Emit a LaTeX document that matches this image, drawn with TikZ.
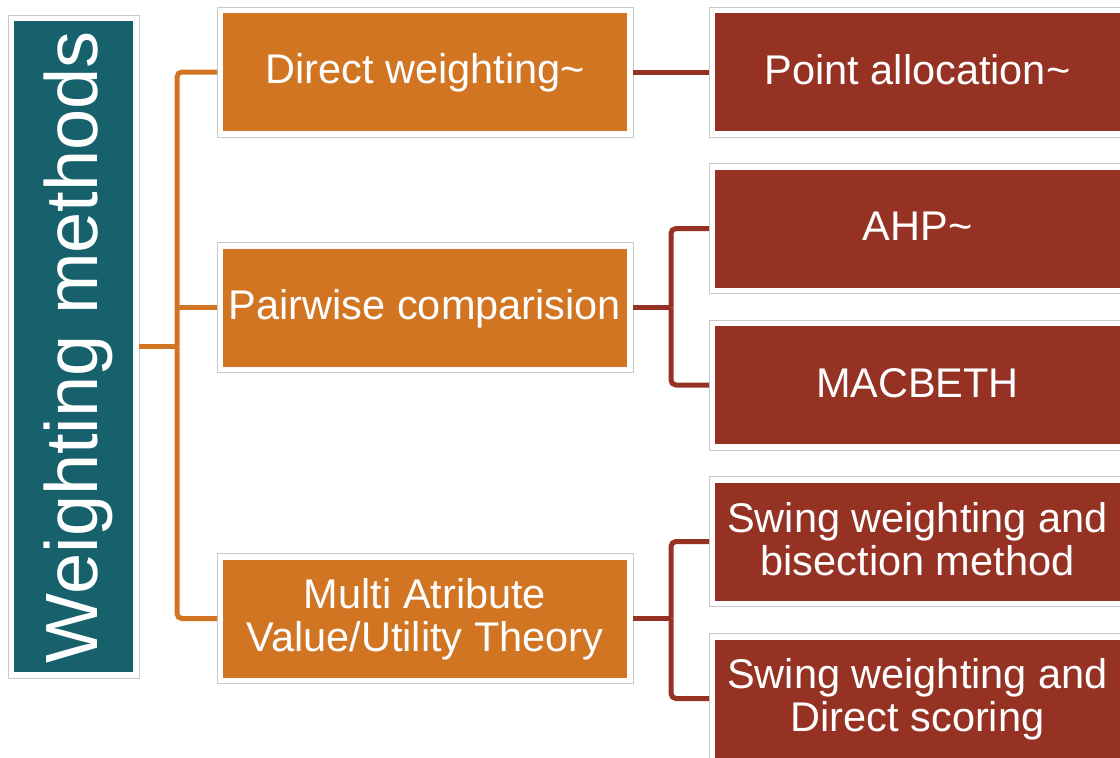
\documentclass[tikz,border=0pt]{standalone}
\usepackage{fontspec}
\setmainfont{Liberation Sans}
\definecolor{teal1}{RGB}{22,97,108}
\definecolor{orng}{RGB}{209,117,34}
\definecolor{rust}{RGB}{150,50,36}
\definecolor{frame}{RGB}{200,200,200}
% uniform line box so every label shares the same baseline offset
\newcommand\lstrut{\rule[-8pt]{0pt}{40pt}}
\begin{document}
\begin{tikzpicture}[x=1pt,y=-1pt,
  box/.style={draw=frame, line width=0.9pt, fill=white, inner sep=0pt, outer sep=0pt,
    text=white, align=center, font=\fontsize{41.5}{43}\selectfont,
    path picture={\fill[#1] ([shift={(6pt,-6pt)}]path picture bounding box.north west)
      rectangle ([shift={(-6pt,6pt)}]path picture bounding box.south east);}},
  lone/.style={box=orng, minimum width=416pt, minimum height=130pt},
  ltwo/.style={box=rust, minimum width=417pt, minimum height=130pt},
  oconn/.style={draw=orng, line width=5pt, rounded corners=5pt},
  rconn/.style={draw=rust, line width=5pt, rounded corners=5pt}]
\useasboundingbox (0,0) rectangle (1120,758);

% root
\node[box=teal1, minimum width=131pt, minimum height=663pt] (root) at (73.5,346.5) {};
\node[text=white, font=\fontsize{74}{74}\selectfont, rotate=90, anchor=base, inner sep=0pt]
  (rootlabel) at (97,347) {Weighting methods};

% first level
\node[lone] (d1) at (425,72) {\lstrut Direct weighting\textasciitilde};
\node[lone] (p1) at (425,307.5) {\lstrut Pairwise comparision};
\node[lone] (m1) at (425,618.5) {\lstrut Multi Atribute\\\lstrut Value/Utility Theory};

% second level
\node[ltwo] (pa) at (917.5,72) {\lstrut Point allocation\textasciitilde};
\node[ltwo] (ahp) at (917.5,228.5) {\lstrut AHP\textasciitilde};
\node[ltwo] (mac) at (917.5,385) {\lstrut MACBETH};
\node[ltwo] (s1) at (917.5,541.5) {\lstrut Swing weighting and\\\lstrut bisection method};
\node[ltwo] (s2) at (917.5,698.5) {\lstrut Swing weighting and\\\lstrut Direct scoring};

% junctions
\coordinate (jr) at (177,346.5);
\coordinate (jp) at (671,307.5);
\coordinate (jm) at (671,618.5);

% orange tree
\draw[oconn] (d1.west) -| (jr);
\draw[oconn] (m1.west) -| (jr);
\draw[oconn] (root.east) -- (jr);
\draw[oconn] (p1.west) -- (p1.west -| jr);

% red branches
\draw[rconn] (d1.east) -- (pa.west);
\draw[rconn] (ahp.west) -| (jp);
\draw[rconn] (mac.west) -| (jp);
\draw[rconn] (p1.east) -- (jp);
\draw[rconn] (s1.west) -| (jm);
\draw[rconn] (s2.west) -| (jm);
\draw[rconn] (m1.east) -- (jm);
\end{tikzpicture}
\end{document}
